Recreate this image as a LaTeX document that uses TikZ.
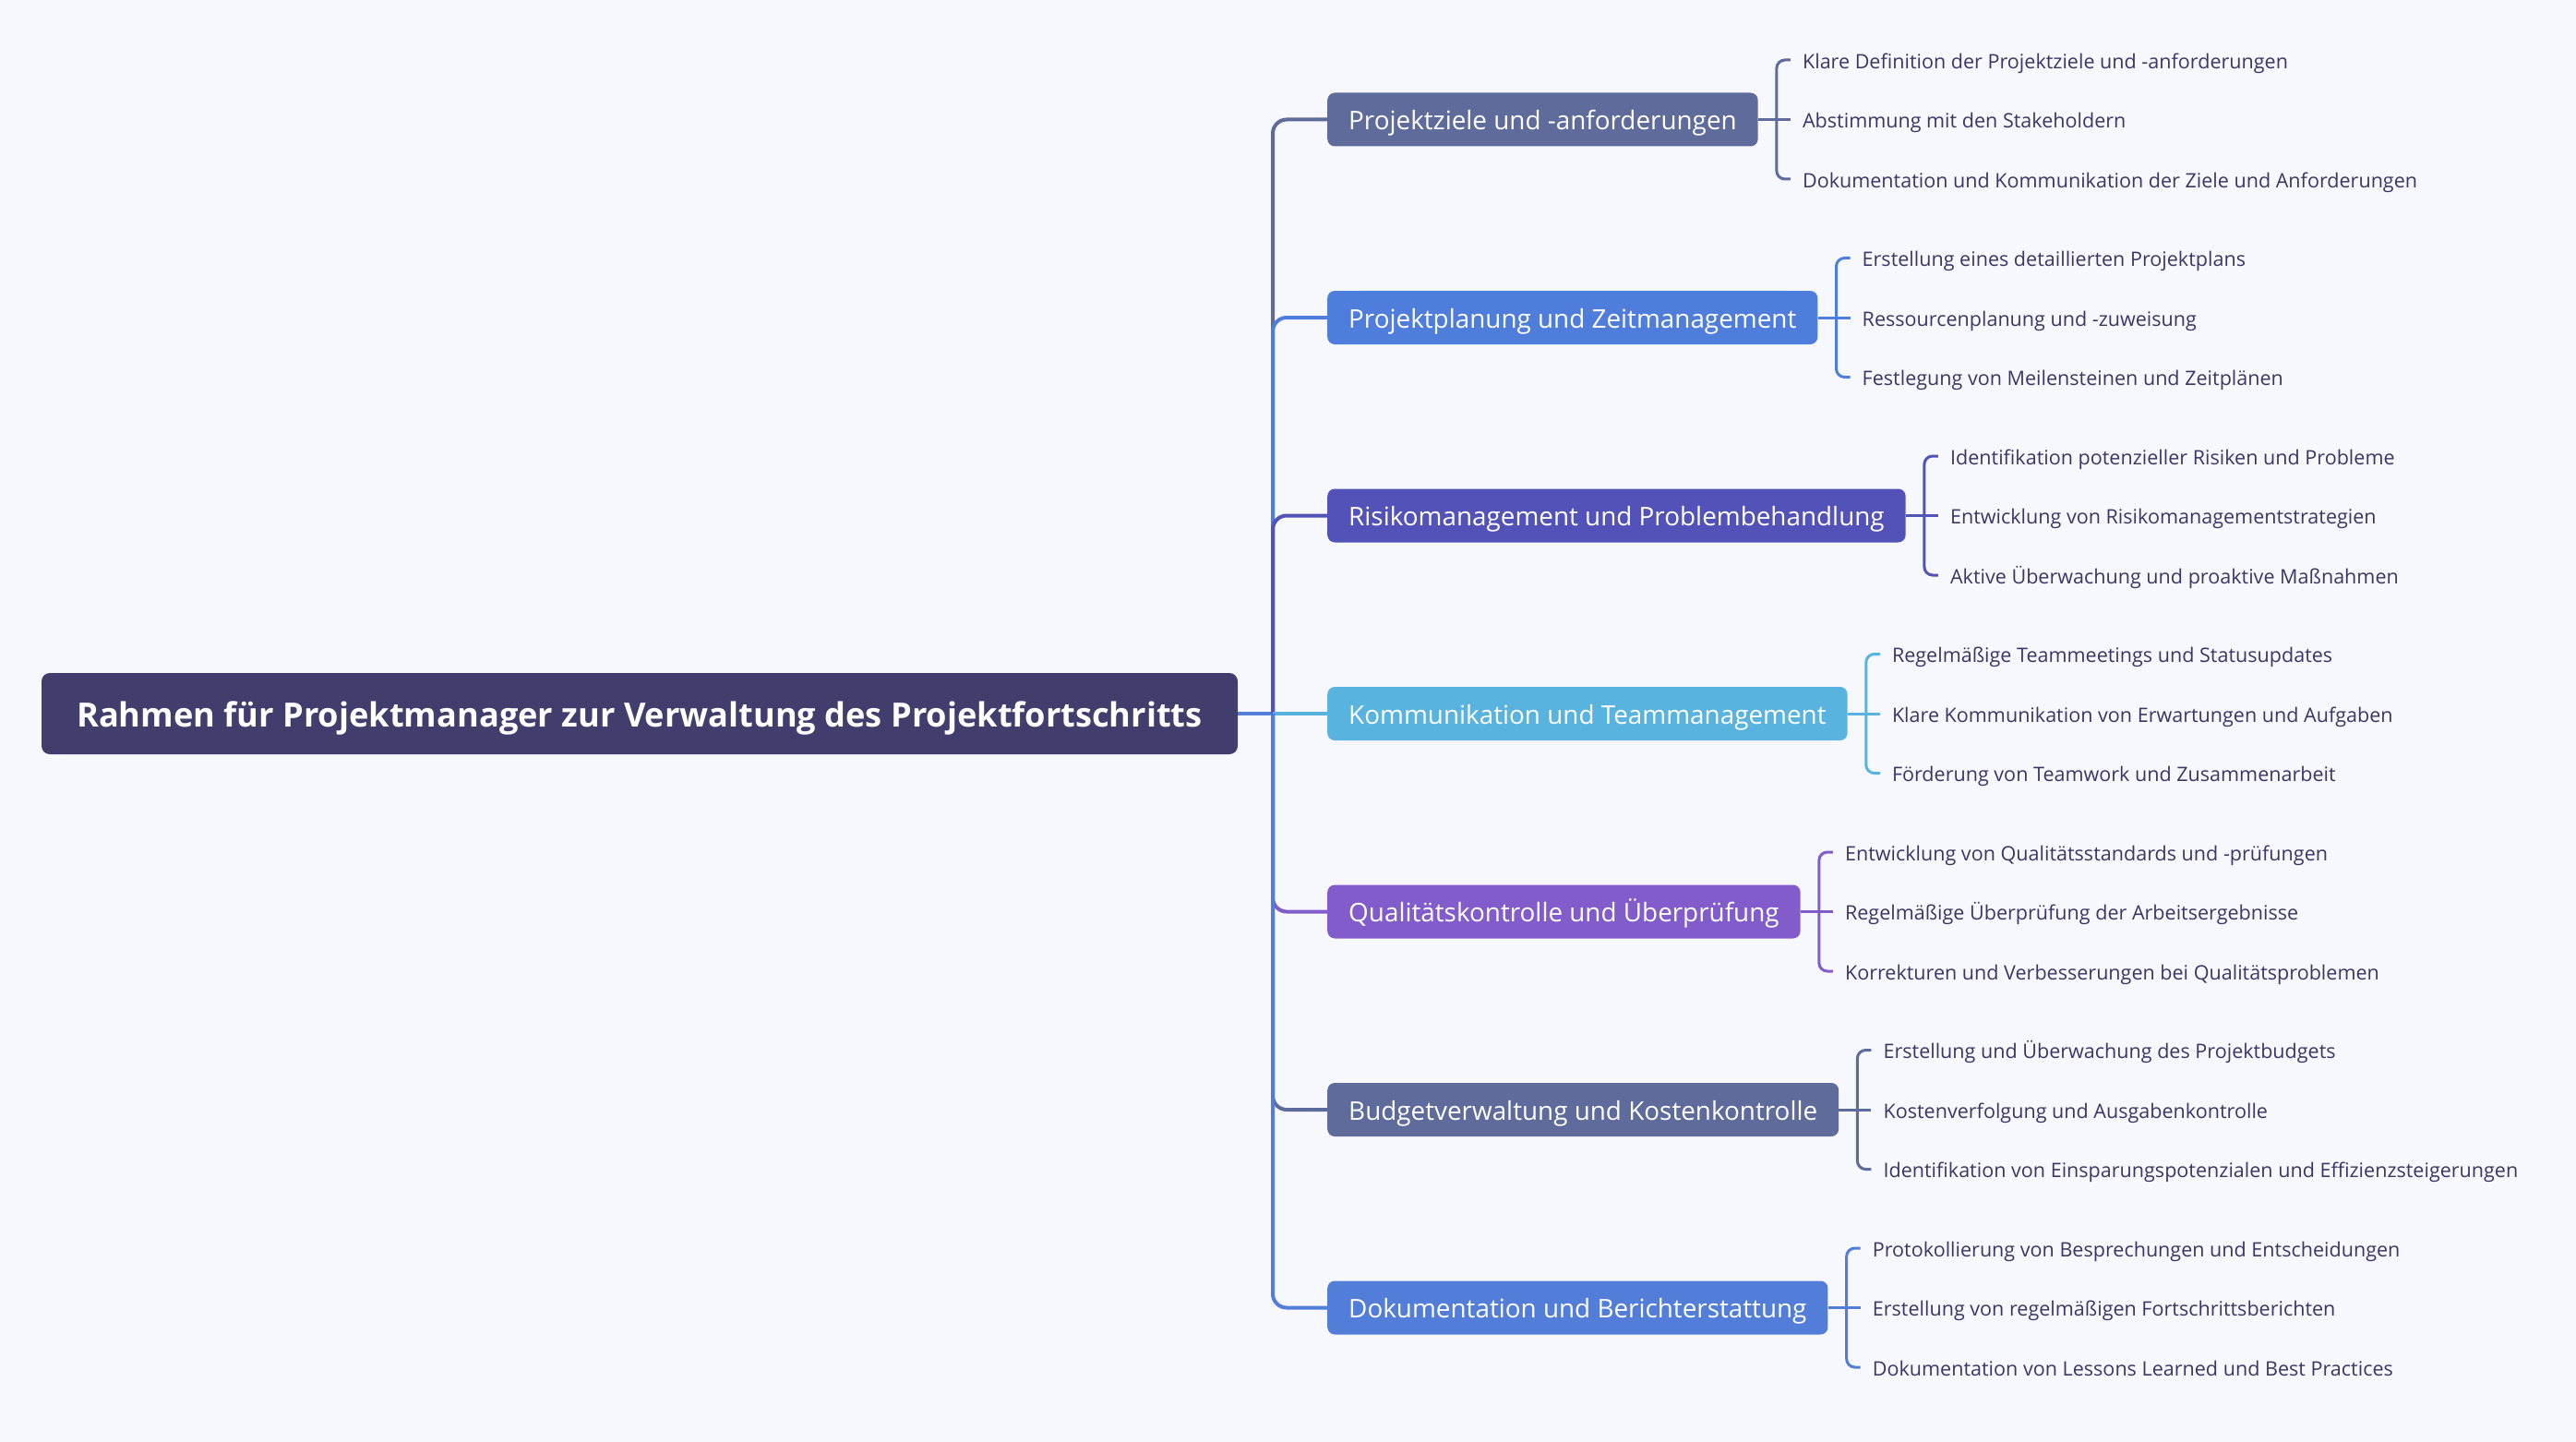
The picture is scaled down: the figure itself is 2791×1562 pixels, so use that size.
\documentclass[tikz,border=0pt]{standalone}
\usepackage{fontspec}
\setmainfont{Open Sans}
\usetikzlibrary{calc}
\definecolor{bg}{HTML}{F7F8FD}
\definecolor{rootc}{HTML}{413E6E}
\definecolor{leafc}{HTML}{3A3766}
\definecolor{ca}{HTML}{5E6B9B}
\definecolor{cb}{HTML}{4E7DDB}
\definecolor{cc}{HTML}{5252B8}
\definecolor{cd}{HTML}{58B4DF}
\definecolor{ce}{HTML}{835CCB}
\definecolor{cf}{HTML}{5E6B9B}
\definecolor{cg}{HTML}{527EDA}
\tikzset{
  rootbox/.style={fill=rootc, text=white, rounded corners=9pt, minimum width=1296pt, minimum height=88pt,
    font=\fontsize{36.2}{42}\selectfont\bfseries, inner sep=0pt, text height=40pt, text depth=10.2pt},
  branchbox/.style={fill=#1, text=white, rounded corners=8pt, minimum height=58pt, inner xsep=23pt, inner ysep=0pt,
    font=\fontsize{27.85}{33}\selectfont, anchor=west, text height=31pt, text depth=8.2pt},
  leaftext/.style={text=leafc, inner xsep=13pt, inner ysep=0pt, anchor=west, font=\fontsize{21.55}{26}\selectfont,
    text height=24pt, text depth=5.6pt},
  trunkline/.style={draw=#1, line width=4pt, rounded corners=15pt},
  bracketline/.style={draw=#1, line width=3pt, rounded corners=9pt},
}
\begin{document}
\begin{tikzpicture}[x=1pt, y=-1pt]
\fill[bg] (0,0) rectangle (2791,1562);
\useasboundingbox (0,0) rectangle (2791,1562);

\node[rootbox] (r) at (693,773) {Rahmen für Projektmanager zur Verwaltung des Projektfortschritts};
\coordinate (t) at (1379,773);

\node[branchbox=ca] (b1) at (1438,129.5) {Projektziele und -anforderungen};
\node[branchbox=cb] (b2) at (1438,344) {Projektplanung und Zeitmanagement};
\node[branchbox=cc] (b3) at (1438,558.5) {Risikomanagement und Problembehandlung};
\node[branchbox=cd] (b4) at (1438,773) {Kommunikation und Teammanagement};
\node[branchbox=ce] (b5) at (1438,987.5) {Qualitätskontrolle und Überprüfung};
\node[branchbox=cf] (b6) at (1438,1202) {Budgetverwaltung und Kostenkontrolle};
\node[branchbox=cg] (b7) at (1438,1416.5) {Dokumentation und Berichterstattung};

\draw[trunkline=cg] (r.east) -- (t);
\draw[trunkline=ca] (t) |- (b1.west);
\draw[trunkline=cb] (t) |- (b2.west);
\draw[trunkline=cc] (t) |- (b3.west);
\draw[trunkline=cd] (t) -- (b4.west);
\draw[trunkline=ce] (t) |- (b5.west);
\draw[trunkline=cf] (t) |- (b6.west);
\draw[trunkline=cg] (t) |- (b7.west);

\foreach \b/\c/\la/\lb/\lc in {
  1/ca/{Klare Definition der Projektziele und -anforderungen}/{Abstimmung mit den Stakeholdern}/{Dokumentation und Kommunikation der Ziele und Anforderungen},
  2/cb/{Erstellung eines detaillierten Projektplans}/{Ressourcenplanung und -zuweisung}/{Festlegung von Meilensteinen und Zeitplänen},
  3/cc/{Identifikation potenzieller Risiken und Probleme}/{Entwicklung von Risikomanagementstrategien}/{Aktive Überwachung und proaktive Maßnahmen},
  4/cd/{Regelmäßige Teammeetings und Statusupdates}/{Klare Kommunikation von Erwartungen und Aufgaben}/{Förderung von Teamwork und Zusammenarbeit},
  5/ce/{Entwicklung von Qualitätsstandards und -prüfungen}/{Regelmäßige Überprüfung der Arbeitsergebnisse}/{Korrekturen und Verbesserungen bei Qualitätsproblemen},
  6/cf/{Erstellung und Überwachung des Projektbudgets}/{Kostenverfolgung und Ausgabenkontrolle}/{Identifikation von Einsparungspotenzialen und Effizienzsteigerungen},
  7/cg/{Protokollierung von Besprechungen und Entscheidungen}/{Erstellung von regelmäßigen Fortschrittsberichten}/{Dokumentation von Lessons Learned und Best Practices}}{
  \node[leaftext] (b\b a) at ($(b\b.east)+(35,-64.5)$) {\la};
  \node[leaftext] (b\b b) at ($(b\b.east)+(35,0)$) {\lb};
  \node[leaftext] (b\b c) at ($(b\b.east)+(35,64.5)$) {\lc};
  \coordinate (b\b j) at ($(b\b.east)+(20,0)$);
  \draw[bracketline=\c] (b\b.east) -- (b\b b.west);
  \draw[bracketline=\c] (b\b a.west) -| (b\b j) |- (b\b c.west);
}
\end{tikzpicture}
\end{document}
